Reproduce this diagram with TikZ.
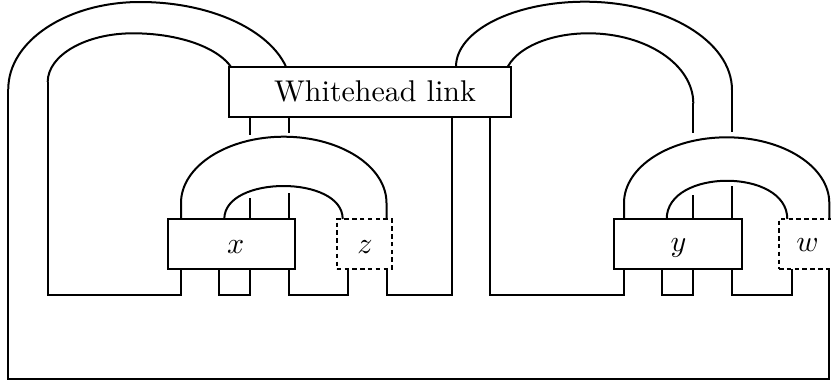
\documentclass[tikz,border=0pt]{standalone}
\tikzset{
  strand/.style={line width=2pt},
  kbox/.style={draw, line width=2pt, fill=white, inner sep=0pt, outer sep=0pt},
  dbox/.style={kbox, dash pattern=on 4.5pt off 3.3pt},
  lbl/.style={inner sep=0pt, anchor=base, scale=3, font=\fontsize{10}{12}\selectfont},
}
\begin{document}
\begin{tikzpicture}[x=1pt,y=-1pt]
\useasboundingbox (0,0) rectangle (831,383);
% feet of the big arcs
\coordinate (loL) at (8.3,89);
\coordinate (liL) at (47.7,82);
\coordinate (roR) at (732,90);
\coordinate (riR) at (693.3,103.3);
\coordinate (bl) at (8.3,379.3);
% big arcs (pass under the Whitehead box)
\draw[strand] (loL) arc[start angle=180,end angle=270,x radius=131.7,y radius=87]
                    arc[start angle=270,end angle=360,x radius=151,y radius=87];
\draw[strand] (liL) arc[start angle=180,end angle=270,x radius=85.3,y radius=48.7]
                    arc[start angle=270,end angle=360,x radius=103,y radius=48.7];
\draw[strand] (roR) arc[start angle=0,end angle=-90,x radius=147,y radius=88.3]
                    arc[start angle=-90,end angle=-180,x radius=129,y radius=65];
\draw[strand] (riR) arc[start angle=0,end angle=-90,x radius=105,y radius=70]
                    arc[start angle=-90,end angle=-180,x radius=84,y radius=46.7];
% boxes
\node[kbox, minimum width=281.7pt, minimum height=50pt] (wh) at (370.15,91.7) {};
\node[kbox, minimum width=127.6pt, minimum height=50.3pt] (xb) at (231.5,244.15) {};
\node[dbox, minimum width=55pt, minimum height=50.3pt] (zb) at (364.2,244.15) {};
\node[kbox, minimum width=128.3pt, minimum height=50.3pt] (yb) at (678.15,244.15) {};
\node[dbox, minimum width=56pt, minimum height=50.3pt] (wb) at (807,244.15) {};
% labels
\node[lbl] (whl) at (375,101.7) {Whitehead link};
\node[lbl] (xl) at (235.6,253.3) {$x$};
\node[lbl] (zl) at (365,253.3) {$z$};
\node[lbl] (yl) at (678.5,251.7) {$y$};
\node[lbl] (wl) at (807.5,251.7) {$w$};
% small arcs
\draw[strand] ([xshift=13.3pt]xb.north west) -- ++(0,-16)
   arc[start angle=180,end angle=360,x radius=102.75,y radius=66.3] -- ([xshift=49.8pt]zb.north west);
\draw[strand] ([xshift=10pt]yb.north west) -- ++(0,-16)
   arc[start angle=180,end angle=360,x radius=102.65,y radius=65.7] -- ([xshift=50.3pt]wb.north west);
\draw[strand] ([xshift=56.6pt]xb.north west) .. controls +(0,-44) and +(0,-44) .. ([xshift=6pt]zb.north west);
\draw[strand] ([xshift=52.7pt]yb.north west) .. controls +(0,-51) and +(0,-51) .. ([xshift=8.3pt]wb.north west);
% stubs passing under the small arcs
\draw[strand] ([xshift=20.7pt]wh.south west) -- ++(0,18.3);
\draw[strand] ([xshift=59.4pt]wh.south west) -- ++(0,16.3);
\draw[strand] ([xshift=82.3pt]xb.north west) -- ++(0,-21);
\draw[strand] ([xshift=121pt]xb.north west) -- ++(0,-26);
\draw[strand] (roR) -- ++(0,42.3);
\draw[strand] (riR) -- ++(0,30);
\draw[strand] ([xshift=79.3pt]yb.north west) -- ++(0,-24);
\draw[strand] ([xshift=118pt]yb.north west) -- ++(0,-33);
% lower connections
\draw[strand] ([xshift=13.3pt]xb.south west) -- ++(0,25.7) -| (liL);
\draw[strand] ([xshift=51.6pt]xb.south west) -- ++(0,25.7) -| ([xshift=82.3pt]xb.south west);
\draw[strand] ([xshift=121pt]xb.south west) -- ++(0,25.7) -| ([xshift=11.6pt]zb.south west);
\draw[strand] ([xshift=49.8pt]zb.south west) -- ++(0,25.7) -| ([xshift=222.7pt]wh.south west);
\draw[strand] ([xshift=10pt]yb.south west) -- ++(0,25.7) -| ([xshift=260.7pt]wh.south west);
\draw[strand] ([xshift=47.5pt]yb.south west) -- ++(0,25.7) -| ([xshift=79.3pt]yb.south west);
\draw[strand] ([xshift=118pt]yb.south west) -- ++(0,25.7) -| ([xshift=12.7pt]wb.south west);
\draw[strand] ([xshift=50.3pt]wb.south west) |- (bl) -- (loL);
\end{tikzpicture}
\end{document}
